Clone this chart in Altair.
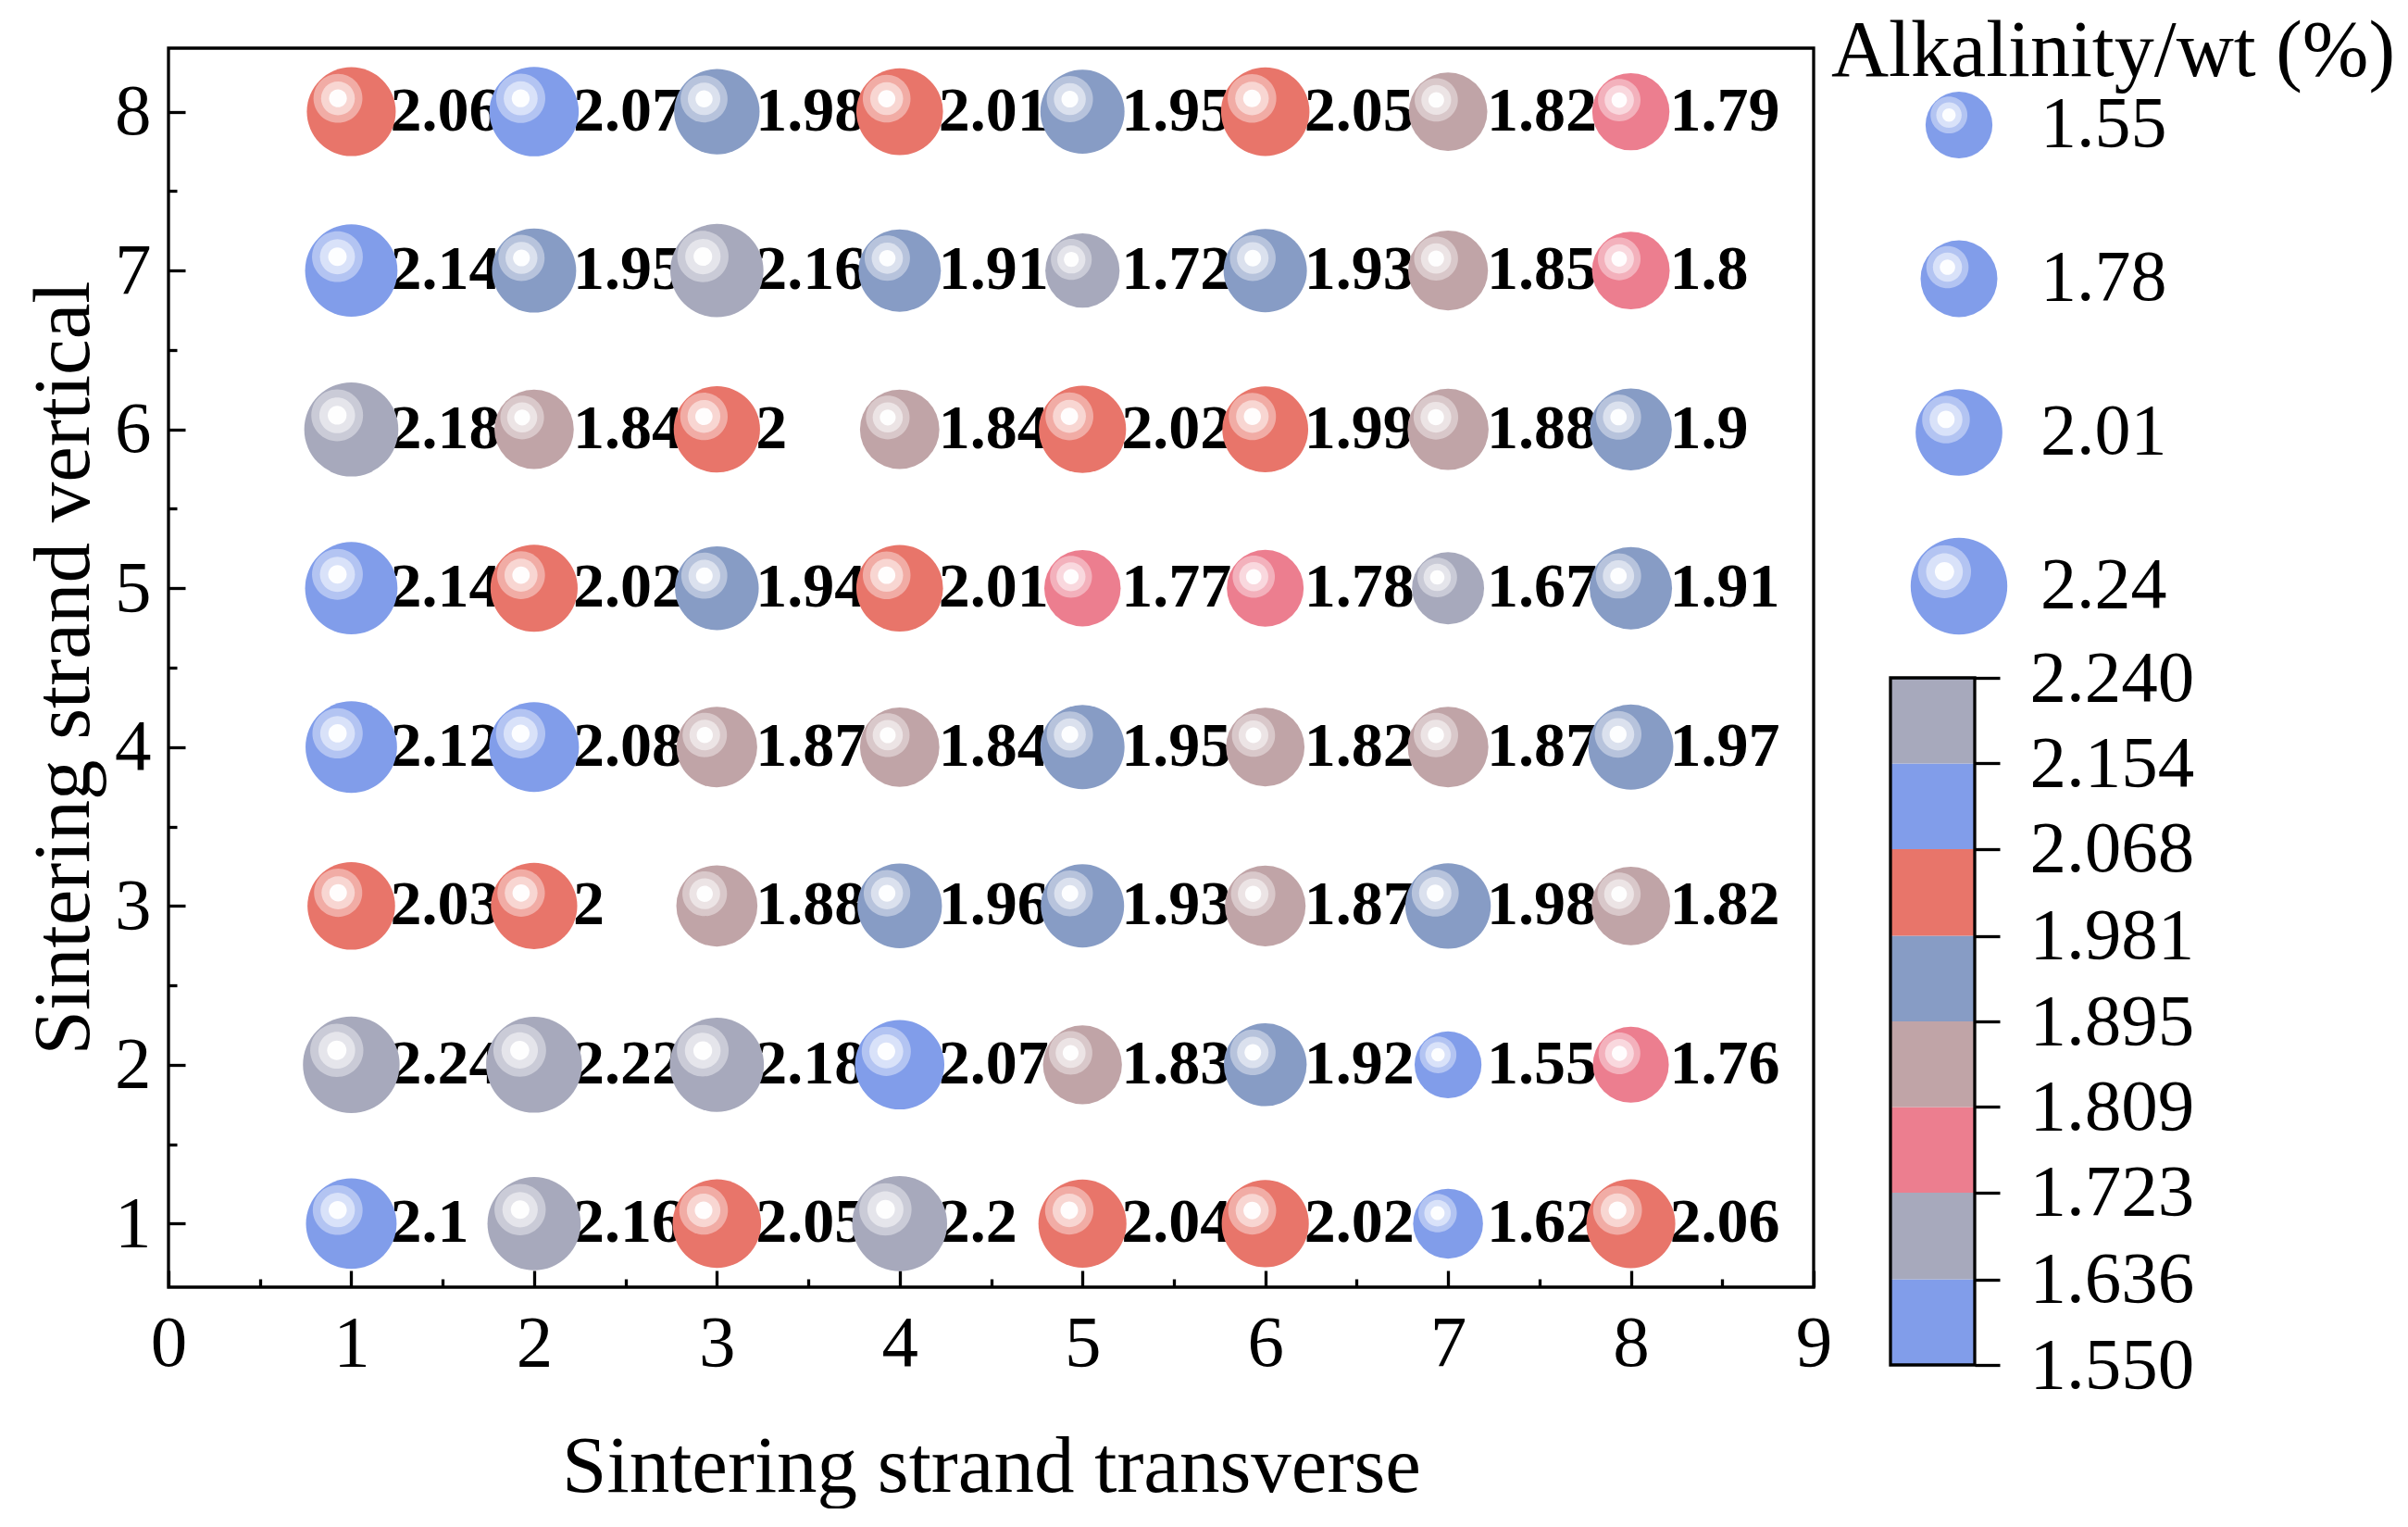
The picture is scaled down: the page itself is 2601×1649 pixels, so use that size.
import altair as alt
import pandas as pd

FONT = "Liberation Serif"

# ---------------- data ----------------
transverse = [1, 2, 3, 4, 5, 6, 7, 8]
vertical = [1, 2, 3, 4, 5, 6, 7, 8]
row_1 = [2.10, 2.16, 2.05, 2.20, 2.04, 2.02, 1.62, 2.06]
row_2 = [2.24, 2.22, 2.18, 2.07, 1.83, 1.92, 1.55, 1.76]
row_3 = [2.03, 2.00, 1.88, 1.96, 1.93, 1.87, 1.98, 1.82]
row_4 = [2.12, 2.08, 1.87, 1.84, 1.95, 1.82, 1.87, 1.97]
row_5 = [2.14, 2.02, 1.94, 2.01, 1.77, 1.78, 1.67, 1.91]
row_6 = [2.18, 1.84, 2.00, 1.84, 2.02, 1.99, 1.88, 1.90]
row_7 = [2.14, 1.95, 2.16, 1.91, 1.72, 1.93, 1.85, 1.80]
row_8 = [2.06, 2.07, 1.98, 2.01, 1.95, 2.05, 1.82, 1.79]
rows = [row_1, row_2, row_3, row_4, row_5, row_6, row_7, row_8]

x_ticks = [0, 1, 2, 3, 4, 5, 6, 7, 8, 9]
y_ticks = [1, 2, 3, 4, 5, 6, 7, 8]
legend_values = [1.55, 1.78, 2.01, 2.24]
bar_ticks = [1.550, 1.636, 1.723, 1.809, 1.895, 1.981, 2.068, 2.154, 2.240]
band_colors = ["#819DEA", "#A7A9BC", "#EC7E8F", "#C0A4A7",
               "#879CC5", "#E8756A", "#819DEA", "#A7A9BC"]
legend_title = "Alkalinity/wt (%)"
x_title = "Sintering strand transverse"
y_title = "Sintering strand vertical"

records = []
for yv, row in zip(vertical, rows):
    for xv, val in zip(transverse, row):
        records.append({"x": xv, "y": yv, "v": val})
df = pd.DataFrame(records)
ldf = pd.DataFrame({"v": legend_values})
bdf = pd.DataFrame({"lo": bar_ticks[:-1], "hi": bar_ticks[1:]})
frame_df = pd.DataFrame({"lo": [bar_ticks[0]], "hi": [bar_ticks[-1]]})
title_df = pd.DataFrame({"t": [legend_title]})

# ---------------- styling helpers ----------------
W, H = 1777, 1338
BLUE = band_colors[0]


def circle_path(cx, cy, r):
    k = 0.5523 * r
    f = lambda a: f"{a:.4f}"
    return (f"M{f(cx + r)},{f(cy)} "
            f"C{f(cx + r)},{f(cy + k)} {f(cx + k)},{f(cy + r)} {f(cx)},{f(cy + r)} "
            f"C{f(cx - k)},{f(cy + r)} {f(cx - r)},{f(cy + k)} {f(cx - r)},{f(cy)} "
            f"C{f(cx - r)},{f(cy - k)} {f(cx - k)},{f(cy - r)} {f(cx)},{f(cy - r)} "
            f"C{f(cx + k)},{f(cy - r)} {f(cx + r)},{f(cy - k)} {f(cx + r)},{f(cy)} Z")


HL = -0.3
ring_paths = [circle_path(HL, HL, 0.55), circle_path(HL, HL, 0.38), circle_path(HL, HL, 0.20)]
ring_alpha = [0.40, 0.50, 0.95]

xsc = alt.Scale(domain=[0, 9], nice=False, zero=False)
ysc = alt.Scale(domain=[0.6, 8.4], nice=False, zero=False)
ssc = alt.Scale(type="pow", exponent=2, domain=[0, 2.24], range=[0, 10900])
csc = alt.Scale(type="threshold", domain=bar_ticks[1:-1], range=band_colors)

ax_x_main = alt.Axis(orient="bottom", values=x_ticks, format="d", ticks=False, tickSize=0,
                     domain=False, grid=False, labelFont=FONT, labelFontSize=79,
                     labelColor="black", labelPadding=22, labelFlush=False, labelOverlap=False,
                     titleFont=FONT, titleFontSize=87, titleFontWeight="normal",
                     titleColor="black", titlePadding=51)
ax_y_main = alt.Axis(orient="left", values=y_ticks, format="d", ticks=False, tickSize=0,
                     domain=False, grid=False, labelFont=FONT, labelFontSize=79,
                     labelColor="black", labelPadding=19, labelFlush=False, labelOverlap=False,
                     titleFont=FONT, titleFontSize=87, titleFontWeight="normal",
                     titleColor="black", titlePadding=10)


def tick_axis(orient, offset, values, size):
    return alt.Axis(orient=orient, offset=offset, values=values, ticks=True, tickSize=size,
                    tickWidth=3.3, tickColor="black", labels=False, domain=False, grid=False)


ax_x_major = tick_axis("top", -H, x_ticks, 18)
ax_x_minor = tick_axis("top", -H, [t + 0.5 for t in x_ticks[:-1]], 9)
ax_y_major = tick_axis("right", -W, y_ticks, 18)
ax_y_minor = tick_axis("right", -W, [t + 0.5 for t in y_ticks[:-1]], 9)

base = alt.Chart(df)


def xy(ax_x, ax_y):
    return dict(
        x=alt.X("x:Q", scale=xsc, axis=ax_x, title=x_title if ax_x is ax_x_main else None),
        y=alt.Y("y:Q", scale=ysc, axis=ax_y, title=y_title if ax_y is ax_y_main else None),
    )


labels = base.mark_text(align="left", baseline="middle", dx=42, font=FONT,
                        fontWeight="bold", fontSize=68, color="black").encode(
    x=alt.X("x:Q", scale=xsc, axis=None),
    y=alt.Y("y:Q", scale=ysc, axis=None),
    text=alt.Text("v:Q", format="~g"),
)
balls = base.mark_point(shape="circle", filled=True, opacity=1, strokeWidth=0).encode(
    **xy(ax_x_main, ax_y_main),
    color=alt.Color("v:Q", scale=csc, legend=None),
    size=alt.Size("v:Q", scale=ssc, legend=None),
)
ring_axes = [(ax_x_major, ax_y_major), (ax_x_minor, ax_y_minor), (None, None)]
rings = []
for path, a, (axx, axy) in zip(ring_paths, ring_alpha, ring_axes):
    if axx is None:
        enc = dict(x=alt.X("x:Q", scale=xsc, axis=None), y=alt.Y("y:Q", scale=ysc, axis=None))
    else:
        enc = xy(axx, axy)
    rings.append(base.mark_point(shape=path, filled=True, fill="white", fillOpacity=a,
                                 opacity=1, strokeWidth=0).encode(
        **enc, size=alt.Size("v:Q", scale=ssc, legend=None)))

main = alt.layer(labels, balls, *rings).resolve_axis(
    x="independent", y="independent"
).properties(width=W, height=H, view=alt.ViewBackground(stroke="black", strokeWidth=3.3))

# ---------------- size legend ----------------
lbase = alt.Chart(ldf)
ly = alt.Y("v:O", scale=alt.Scale(type="point", padding=0.5), sort="ascending", axis=None)
LX = 74
lballs = lbase.mark_point(shape="circle", filled=True, fill=BLUE, opacity=1, strokeWidth=0).encode(
    x=alt.value(LX), y=ly, size=alt.Size("v:Q", scale=ssc, legend=None))
lrings = [lbase.mark_point(shape=p, filled=True, fill="white", fillOpacity=a, opacity=1,
                           strokeWidth=0).encode(
    x=alt.value(LX), y=ly, size=alt.Size("v:Q", scale=ssc, legend=None))
    for p, a in zip(ring_paths, ring_alpha)]
ltext = lbase.mark_text(align="left", baseline="middle", font=FONT, fontSize=78,
                        color="black").encode(
    x=alt.value(162), y=ly, text=alt.Text("v:Q", format=".2f"))
ltitle = alt.Chart(title_df).mark_text(align="left", baseline="middle", font=FONT,
                                        fontSize=86, color="black").encode(
    x=alt.value(-64), y=alt.value(4), text="t:N")
legend_panel = alt.layer(lballs, *lrings, ltext, ltitle).properties(
    width=91, height=664, view=alt.ViewBackground(stroke="transparent"))

# ---------------- colour bar ----------------
bys = alt.Scale(domain=[bar_ticks[0], bar_ticks[-1]], nice=False, zero=False)
ax_bar = alt.Axis(orient="right", values=bar_ticks, format=".3f", ticks=True, tickSize=27,
                  tickWidth=3.3, tickColor="black", domain=False, grid=False,
                  labelFont=FONT, labelFontSize=79, labelColor="black", labelPadding=32,
                  labelFlush=False, labelOverlap=False)
bands = alt.Chart(bdf).mark_rect(strokeWidth=0).encode(
    x=alt.value(0), x2=alt.value(91),
    y=alt.Y("lo:Q", scale=bys, axis=ax_bar, title=None), y2="hi:Q",
    color=alt.Color("lo:Q", scale=csc, legend=None))
bframe = alt.Chart(frame_df).mark_rect(fillOpacity=0, stroke="black", strokeWidth=3.3).encode(
    x=alt.value(0), x2=alt.value(91),
    y=alt.Y("lo:Q", scale=bys, axis=ax_bar, title=None), y2="hi:Q")
bar_panel = alt.layer(bands, bframe).properties(
    width=91, height=742, view=alt.ViewBackground(stroke="transparent"))

side = alt.vconcat(legend_panel, bar_panel, spacing=16, bounds="flush")

chart = alt.hconcat(main, side, spacing=83, bounds="flush").properties(
    padding={"left": 15, "top": 4, "right": 0, "bottom": 0},
    background="white",
).configure(font=FONT)

chart.save("out.html", embed_options={"renderer": "svg", "actions": False})
